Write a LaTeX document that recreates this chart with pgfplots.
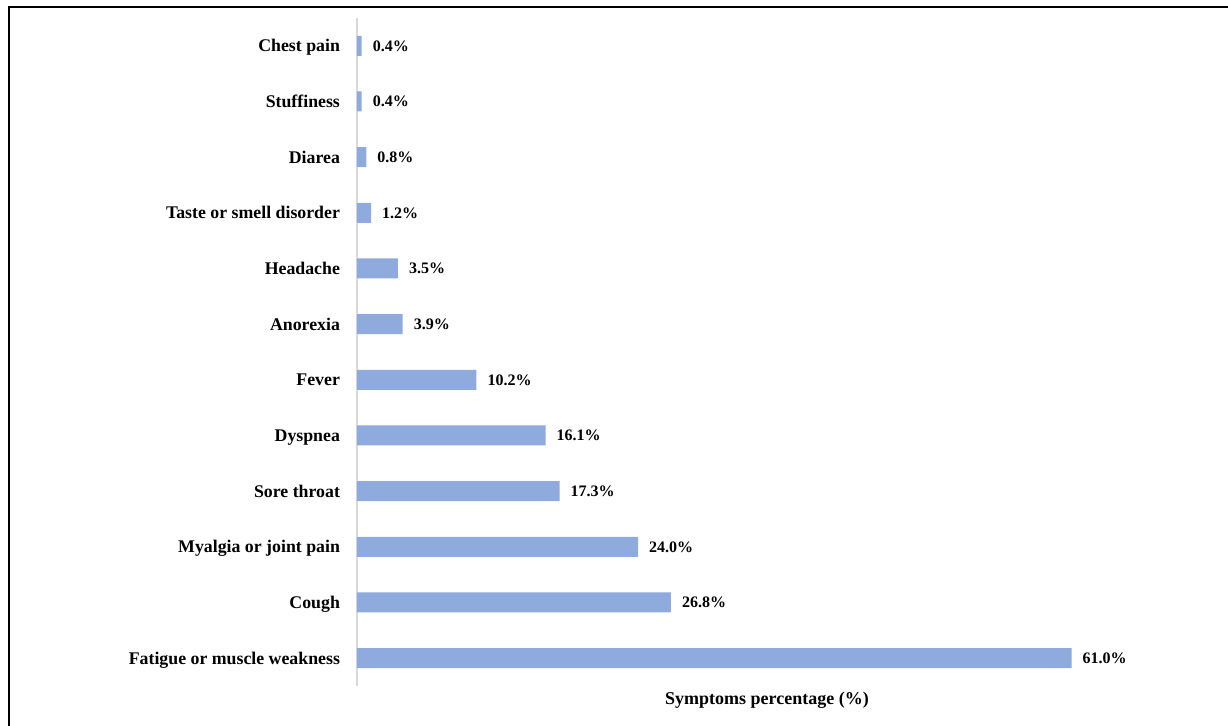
\documentclass[border=0pt]{standalone}
\usepackage{pgfplots}
\pgfplotsset{compat=1.18}
\usepackage{fontspec}
\setmainfont{Liberation Serif}
\definecolor{barblue}{HTML}{8FAADC}
\definecolor{axgray}{HTML}{D9D9D9}
\begin{document}
\begin{tikzpicture}
\path[use as bounding box] (0,0) rectangle (614pt,363pt);
\draw[line width=1pt] (4.5pt,0) -- (4.5pt,359.5pt) -- (614pt,359.5pt);
\begin{axis}[
  at={(178.5pt,20pt)}, anchor=south west,
  scale only axis, width=410pt, height=334pt,
  xbar, bar width=10pt,
  xmin=0, xmax=70, ymin=-0.5, ymax=11.5,
  axis line style={draw=none},
  xtick=\empty,
  ytick={0,...,11},
  yticklabels={Fatigue or muscle weakness, Cough, Myalgia or joint pain, Sore throat, Dyspnea, Fever, Anorexia, Headache, Taste or smell disorder, Diarea, Stuffiness, Chest pain},
  major tick length=0pt,
  yticklabel style={font=\fontsize{8.9}{10.7}\selectfont\bfseries, anchor=base east, xshift=-5pt, yshift=-3pt},
  xlabel={Symptoms percentage (\%)},
  xlabel style={font=\fontsize{9}{10.8}\selectfont\bfseries, at={(axis description cs:0.5,0)}, anchor=center, yshift=-7pt},
  nodes near coords={\pgfmathprintnumber[fixed,fixed zerofill,precision=1,assume math mode=true]{\pgfplotspointmeta}\%},
  nodes near coords style={font=\fontsize{8}{9.6}\selectfont\bfseries, anchor=west, xshift=2pt},
  /pgf/number format/assume math mode=true,
  clip=false,
]
\draw[axgray, line width=1pt] (axis cs:0,-0.5) -- (axis cs:0,11.5);
\addplot[fill=barblue, draw=none] coordinates {
  (61.0,0) (26.8,1) (24.0,2) (17.3,3) (16.1,4) (10.2,5) (3.9,6) (3.5,7) (1.2,8) (0.8,9) (0.4,10) (0.4,11)
};
\end{axis}
\end{tikzpicture}
\end{document}
